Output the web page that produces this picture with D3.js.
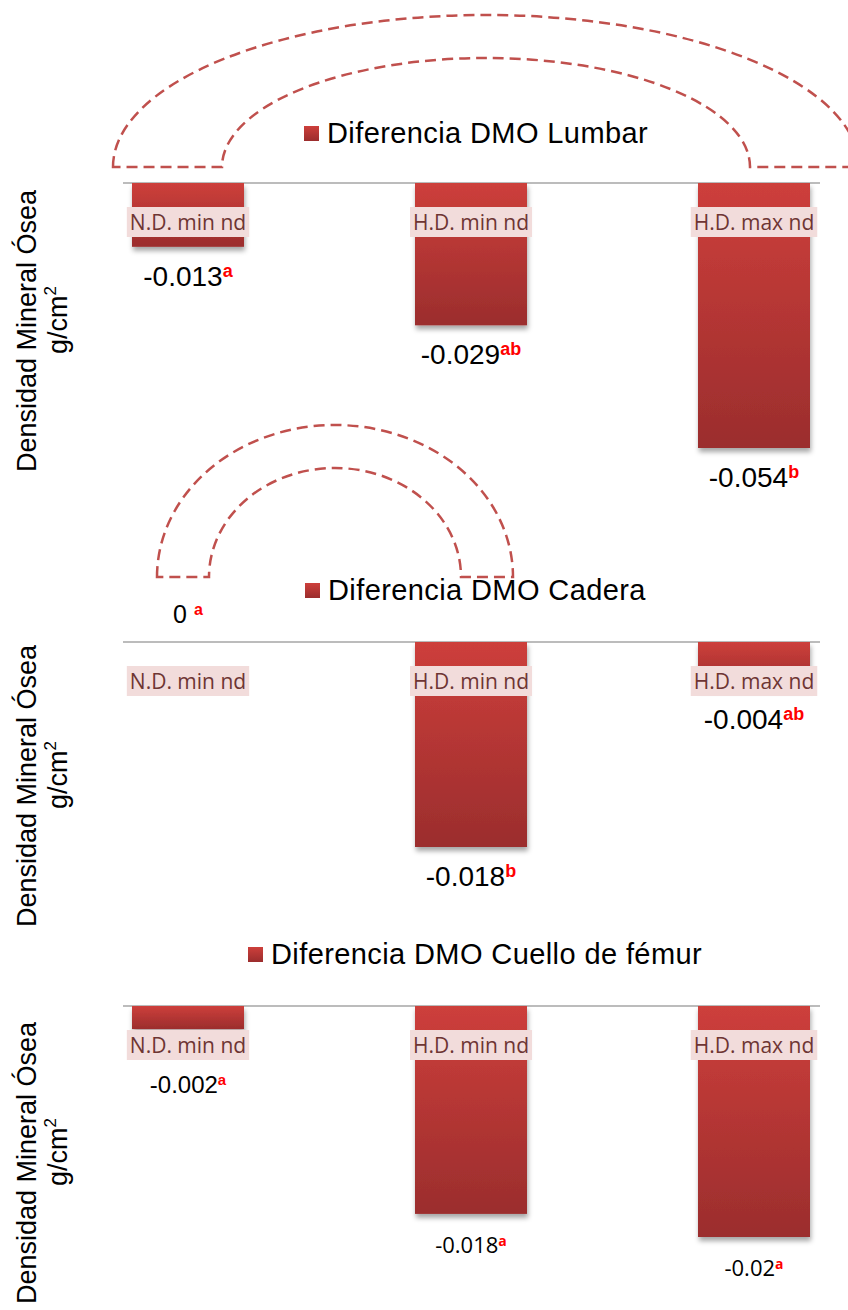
<!DOCTYPE html>
<html>
<head>
<meta charset="utf-8">
<script src="https://cdn.jsdelivr.net/npm/d3@7"></script>
<style>
  body { margin: 0; background: #fff; }
  svg { display: block; }
</style>
</head>
<body>
<div class="chart"></div>
<script>
// data
var categories = ["N.D. min nd", "H.D. min nd", "H.D. max nd"];

var lumbarValues = [-0.013, -0.029, -0.054];
var lumbarSig = ["a", "ab", "b"];

var caderaValues = [0, -0.018, -0.004];
var caderaSig = ["a", "b", "ab"];

var cuelloValues = [-0.002, -0.018, -0.02];
var cuelloSig = ["a", "a", "a"];

var seriesNames = ["Diferencia DMO Lumbar", "Diferencia DMO Cadera", "Diferencia DMO Cuello de fémur"];
var yTitle = "Densidad Mineral Ósea";
var yUnit = "g/cm";

var width = 848, height = 1310;
var arial = "'Liberation Sans', Arial, sans-serif";
var calibri = "'Open Sans', sans-serif";

// layout of each panel (pixels, styles)
var panels = [
    { values: lumbarValues, sig: lumbarSig, name: seriesNames[0],
      base: 183, depth: 265, legendX: 304, legendY: 143, titleY: 331,
      fonts: [[arial, 28], [arial, 28], [arial, 28]],
      arc: { cx: 486, by: 167, rxo: 373, ryo: 152, rxi: 264, ryi: 109 } },
    { values: caderaValues, sig: caderaSig, name: seriesNames[1],
      base: 642, depth: 205, legendX: 305, legendY: 600, titleY: 786,
      fonts: [[arial, 25], [arial, 28], [arial, 28]],
      arc: { cx: 335, by: 577, rxo: 178, ryo: 152, rxi: 126, ryi: 109 } },
    { values: cuelloValues, sig: cuelloSig, name: seriesNames[2],
      base: 1006, depth: 231, legendX: 248, legendY: 964, titleY: 1163,
      fonts: [[arial, 24], [calibri, 22], [calibri, 22]],
      arc: null }
];

var barWidth = 112;
var xScale = d3.scalePoint().domain(categories).range([188, 754]);

var svg = d3.select("div.chart").append("svg")
    .attr("width", width)
    .attr("height", height);

var defs = svg.append("defs");
var grad = defs.append("linearGradient")
    .attr("id", "barGrad")
    .attr("x1", 0).attr("y1", 0).attr("x2", 0).attr("y2", 1);
grad.append("stop").attr("offset", "0%").attr("stop-color", "#cd3f3b");
grad.append("stop").attr("offset", "100%").attr("stop-color", "#9b2d2d");

var shadow = defs.append("filter")
    .attr("id", "shadow")
    .attr("x", "-20%").attr("y", "-20%").attr("width", "140%").attr("height", "140%");
shadow.append("feDropShadow")
    .attr("dx", 1).attr("dy", 4)
    .attr("stdDeviation", 2.5)
    .attr("flood-color", "#000")
    .attr("flood-opacity", 0.35);

panels.forEach(function(p) {
    var g = svg.append("g");

    var yScale = d3.scaleLinear()
        .domain([0, d3.min(p.values)])
        .range([p.base, p.base + p.depth]);

    // dashed block arc annotation
    if (p.arc) {
        var a = p.arc;
        var d = "M" + (a.cx - a.rxo) + "," + a.by +
            " A" + a.rxo + "," + a.ryo + " 0 0 1 " + (a.cx + a.rxo) + "," + a.by +
            " L" + (a.cx + a.rxi) + "," + a.by +
            " A" + a.rxi + "," + a.ryi + " 0 0 0 " + (a.cx - a.rxi) + "," + a.by + " Z";
        g.append("path")
            .attr("d", d)
            .attr("fill", "none")
            .attr("stroke", "#c0504d")
            .attr("stroke-width", 2.5)
            .attr("stroke-dasharray", "11,6");
    }

    // legend
    g.append("rect")
        .attr("x", p.legendX)
        .attr("y", p.legendY - 17)
        .attr("width", 15)
        .attr("height", 15)
        .attr("fill", "url(#barGrad)");
    g.append("text")
        .attr("x", p.legendX + 23)
        .attr("y", p.legendY)
        .style("font-family", arial)
        .style("font-size", "29px")
        .style("letter-spacing", "0.4px")
        .style("fill", "#000")
        .text(p.name);

    // axis line
    g.append("line")
        .attr("x1", xScale(categories[0]) - 65)
        .attr("x2", xScale(categories[categories.length - 1]) + 66)
        .attr("y1", yScale(0))
        .attr("y2", yScale(0))
        .attr("stroke", "#a6a6a6")
        .attr("stroke-width", 1.5);

    // bars
    g.selectAll(".bar")
        .data(p.values.map(function(v, i) { return { cat: categories[i], v: v }; })
            .filter(function(d) { return d.v !== 0; }))
        .enter().append("rect")
        .attr("class", "bar")
        .attr("x", function(d) { return xScale(d.cat) - barWidth / 2; })
        .attr("y", yScale(0))
        .attr("width", barWidth)
        .attr("height", function(d) { return yScale(d.v) - yScale(0); })
        .attr("fill", "url(#barGrad)")
        .attr("filter", "url(#shadow)");

    // category labels with pink box
    categories.forEach(function(c) {
        var lg = g.append("g");
        var box = lg.append("rect");
        var t = lg.append("text")
            .attr("x", xScale(c))
            .attr("y", p.base + 39)
            .attr("text-anchor", "middle")
            .attr("dominant-baseline", "central")
            .style("font-family", calibri)
            .style("font-size", "21px")
            .style("fill", "#6e3533")
            .text(c);
        var bb = t.node().getBBox();
        box.attr("x", bb.x - 3)
            .attr("y", p.base + 24)
            .attr("width", bb.width + 6)
            .attr("height", 30)
            .attr("fill", "#f2dcdb");
    });

    // value labels
    p.values.forEach(function(v, i) {
        var f = p.fonts[i];
        var yPos = v === 0 ? p.base - 19 : Math.max(yScale(v) + 39, p.base + 87);
        var t = g.append("text")
            .attr("x", xScale(categories[i]))
            .attr("y", yPos)
            .attr("text-anchor", "middle")
            .style("font-family", f[0])
            .style("font-size", f[1] + "px")
            .style("fill", "#000");
        t.append("tspan").text(v === 0 ? "0 " : String(v));
        t.append("tspan")
            .attr("dy", -Math.round(f[1] * 0.33))
            .style("font-size", Math.round(f[1] * 0.64) + "px")
            .style("font-weight", "bold")
            .style("fill", "#ff0000")
            .text(p.sig[i]);
    });

    // y axis title
    g.append("text")
        .attr("transform", "translate(36," + p.titleY + ") rotate(-90)")
        .attr("text-anchor", "middle")
        .style("font-family", arial)
        .style("font-size", "27px")
        .text(yTitle);
    var u = g.append("text")
        .attr("transform", "translate(67," + (p.titleY - 11) + ") rotate(-90)")
        .attr("text-anchor", "middle")
        .style("font-family", arial)
        .style("font-size", "27px")
        .text(yUnit);
    u.append("tspan")
        .attr("dy", -11)
        .style("font-size", "17px")
        .text("2");
});
</script>
</body>
</html>
